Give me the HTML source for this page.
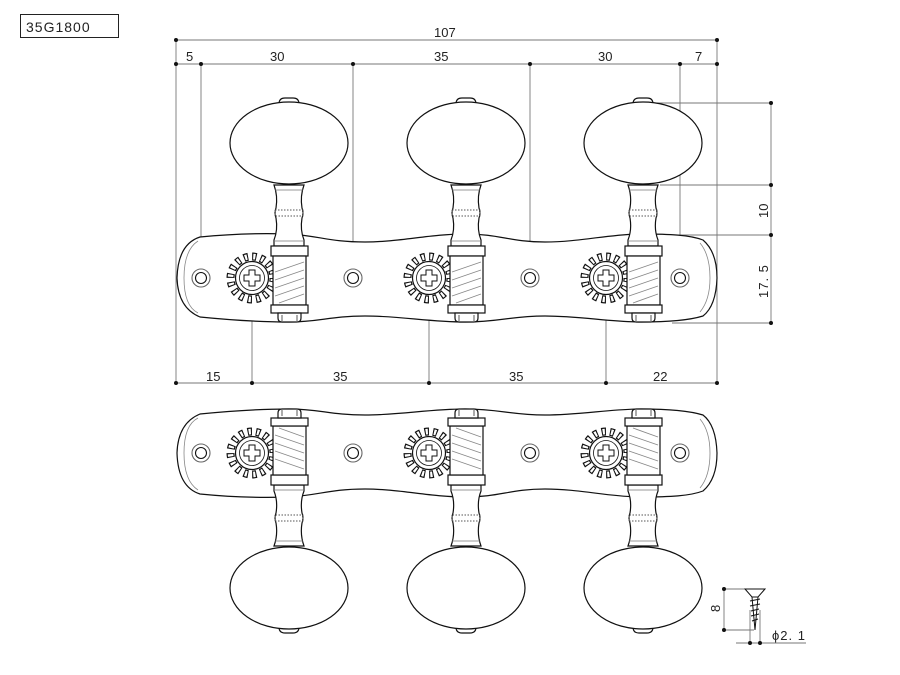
<!DOCTYPE html>
<html><head><meta charset="utf-8"><style>
html,body{margin:0;padding:0;background:#fff;}
svg{display:block;}
text{font-family:"Liberation Sans",sans-serif;font-size:13px;fill:#222;}
</style></head><body>
<svg width="900" height="675" viewBox="0 0 900 675" xmlns="http://www.w3.org/2000/svg">
<defs>
<g id="peg" fill="#fff" stroke="#111" stroke-width="1.2">
  <path d="M-10,-174 Q-10,-180 -4,-180 L4,-180 Q10,-180 10,-174 Z"/>
  <ellipse cx="0" cy="-135" rx="59" ry="41"/>
  <path d="M-15,-93 L15,-93 Q11,-82 13,-70 Q15,-65 13,-60 Q11,-48 15,-38 L15,-32 L-15,-32 L-15,-38 Q-11,-48 -13,-60 Q-15,-65 -13,-70 Q-11,-82 -15,-93 Z"/>
  <line x1="-14" y1="-88" x2="14" y2="-88" stroke="#777" stroke-width="0.8"/>
  <line x1="-14" y1="-37" x2="14" y2="-37" stroke="#777" stroke-width="0.8"/>
  <rect x="-14" y="-68" width="28" height="6" fill="none" stroke="#555" stroke-width="1" stroke-dasharray="1.5 1.5"/>
  <rect x="-18" y="-32" width="37" height="10"/>
  <g transform="translate(-37,0)">
    <circle r="21.5" fill="none" stroke="#111" stroke-width="8" stroke-dasharray="4.4 4.043"/>
    <circle r="21.5" fill="none" stroke="#fff" stroke-width="5.6" stroke-dasharray="2.2 6.243" stroke-dashoffset="-1.1"/>
    <circle r="16.5"/>
    <circle r="12.5" stroke-width="0.8"/>
    <path d="M-3,-8 L3,-8 L3,-3 L8,-3 L8,3 L3,3 L3,8 L-3,8 L-3,3 L-8,3 L-8,-3 L-3,-3 Z" stroke-width="1"/>
  </g>
  <rect x="-16" y="-22" width="33" height="49"/>
  <g stroke="#888" stroke-width="0.9">
    <line x1="-14" y1="-6" x2="15" y2="-16"/>
    <line x1="-14" y1="2" x2="15" y2="-8"/>
    <line x1="-14" y1="10" x2="15" y2="0"/>
    <line x1="-14" y1="18" x2="15" y2="8"/>
    <line x1="-10" y1="25" x2="15" y2="16"/>
  </g>
  <rect x="-18" y="27" width="37" height="8"/>
  <path d="M-11,35 L12,35 L12,40 Q12,44 8,44 L-7,44 Q-11,44 -11,40 Z"/>
  <line x1="-7" y1="37" x2="-7" y2="43" stroke-width="0.7"/>
  <line x1="8" y1="37" x2="8" y2="43" stroke-width="0.7"/>
</g>
<g id="plate">
  <path fill="#fff" stroke="#111" stroke-width="1.2" d="M200,237 C230,234 260,233 289,234 C320,236 330,242 365,242 C400,242 430,234 465,234 C500,234 510,242 545,242 C580,242 610,234 641,234 C670,234 690,235 703,240 Q717,252 717,278 Q716,306 703,316 C690,320 670,322 641,322 C610,322 580,316 545,316 C510,316 500,322 465,322 C430,322 400,316 365,316 C330,316 320,322 289,322 C260,322 230,320 200,317 Q178,308 177,278 Q178,244 200,237 Z"/>
  <path fill="none" stroke="#888" stroke-width="0.8" d="M198,241 Q184,250 184,278 Q184,306 198,313"/>
  <path fill="none" stroke="#888" stroke-width="0.8" d="M700,243 Q710,255 710,278 Q710,300 700,312"/>
  <g fill="#fff" stroke="#111" stroke-width="1.1">
    <circle cx="201" cy="278" r="9" stroke="#666"/><circle cx="201" cy="278" r="5.5"/>
    <circle cx="353" cy="278" r="9" stroke="#666"/><circle cx="353" cy="278" r="5.5"/>
    <circle cx="530" cy="278" r="9" stroke="#666"/><circle cx="530" cy="278" r="5.5"/>
    <circle cx="680" cy="278" r="9" stroke="#666"/><circle cx="680" cy="278" r="5.5"/>
  </g>
</g>
<g id="view">
  <use href="#plate"/>
  <use href="#peg" transform="translate(289,278)"/>
  <use href="#peg" transform="translate(466,278)"/>
  <use href="#peg" transform="translate(643,278)"/>
</g>
</defs>

<rect x="20.5" y="14.5" width="98" height="23" fill="none" stroke="#222" stroke-width="1"/>
<text x="26" y="32" style="font-size:14px;letter-spacing:1px">35G1800</text>

<g stroke="#777" stroke-width="0.9" fill="none">
  <line x1="176" y1="40" x2="717" y2="40"/>
  <line x1="176" y1="64" x2="717" y2="64"/>
  <line x1="176" y1="383" x2="717" y2="383"/>
  <line x1="176" y1="40" x2="176" y2="383"/>
  <line x1="717" y1="40" x2="717" y2="383"/>
  <line x1="201" y1="64" x2="201" y2="278"/>
  <line x1="353" y1="64" x2="353" y2="278"/>
  <line x1="530" y1="64" x2="530" y2="278"/>
  <line x1="680" y1="64" x2="680" y2="278"/>
  <line x1="252" y1="278" x2="252" y2="383"/>
  <line x1="429" y1="278" x2="429" y2="383"/>
  <line x1="606" y1="278" x2="606" y2="383"/>
  <line x1="771" y1="103" x2="771" y2="323"/>
  <line x1="650" y1="103" x2="771" y2="103"/>
  <line x1="660" y1="185" x2="771" y2="185"/>
  <line x1="672" y1="235" x2="771" y2="235"/>
  <line x1="672" y1="323" x2="771" y2="323"/>
</g>

<use href="#view"/>
<use href="#view" transform="translate(0,731) scale(1,-1)"/>

<g fill="#111">
  <circle cx="176" cy="40" r="2"/><circle cx="717" cy="40" r="2"/>
  <circle cx="176" cy="64" r="2"/><circle cx="201" cy="64" r="2"/><circle cx="353" cy="64" r="2"/><circle cx="530" cy="64" r="2"/><circle cx="680" cy="64" r="2"/><circle cx="717" cy="64" r="2"/>
  <circle cx="176" cy="383" r="2"/><circle cx="252" cy="383" r="2"/><circle cx="429" cy="383" r="2"/><circle cx="606" cy="383" r="2"/><circle cx="717" cy="383" r="2"/>
  <circle cx="771" cy="103" r="2"/><circle cx="771" cy="185" r="2"/><circle cx="771" cy="235" r="2"/><circle cx="771" cy="323" r="2"/>
</g>

<text x="434" y="37">107</text>
<text x="186" y="61">5</text>
<text x="270" y="61">30</text>
<text x="434" y="61">35</text>
<text x="598" y="61">30</text>
<text x="695" y="61">7</text>
<text x="206" y="381">15</text>
<text x="333" y="381">35</text>
<text x="509" y="381">35</text>
<text x="653" y="381">22</text>
<text transform="translate(768,218) rotate(-90)">10</text>
<text transform="translate(768,298) rotate(-90)" style="letter-spacing:1px">17. 5</text>

<g stroke="#777" stroke-width="0.9">
  <line x1="724" y1="589" x2="724" y2="630"/>
  <line x1="724" y1="589" x2="745" y2="589"/>
  <line x1="724" y1="630" x2="754" y2="630"/>
  <line x1="736" y1="643" x2="806" y2="643"/>
  <line x1="750" y1="610" x2="750" y2="643"/>
  <line x1="760" y1="610" x2="760" y2="643"/>
</g>
<g fill="#111"><circle cx="724" cy="589" r="2"/><circle cx="724" cy="630" r="2"/><circle cx="750" cy="643" r="2"/><circle cx="760" cy="643" r="2"/></g>
<path d="M745,589 L765,589 L758,597 L752,597 Z" fill="#fff" stroke="#111" stroke-width="1"/>
<path d="M752,597 L758,597 L755,630 Z" fill="#fff" stroke="#111" stroke-width="1"/>
<g stroke="#111" stroke-width="1.1" fill="none">
  <path d="M750,601 L760,599 M750,606 L760,604 M751,611 L759,609 M751,616 L759,614 M752,621 L758,619"/>
</g>
<text transform="translate(720,612) rotate(-90)">8</text>
<text x="772" y="640" style="letter-spacing:1px">ϕ2. 1</text>
</svg>
</body></html>
